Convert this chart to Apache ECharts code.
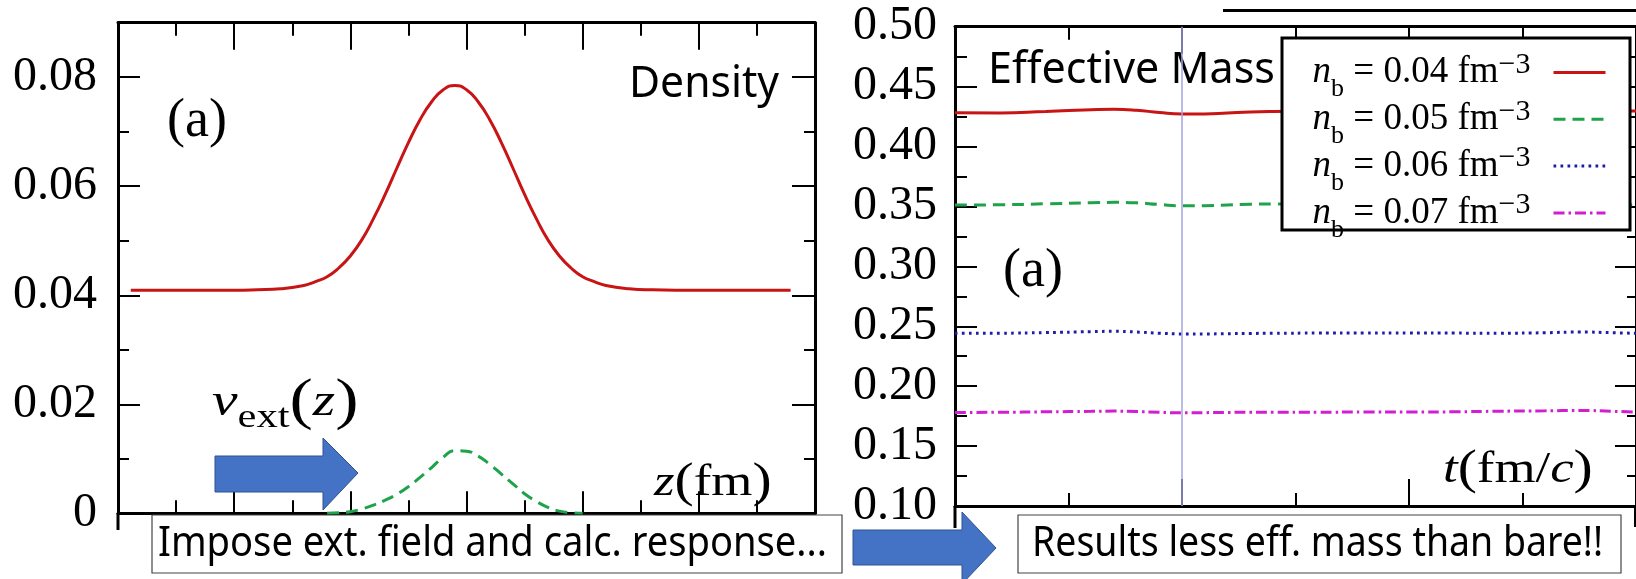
<!DOCTYPE html>
<html>
<head>
<meta charset="utf-8">
<title>Density and effective mass</title>
<script src="https://cdn.jsdelivr.net/npm/echarts@6/dist/echarts.min.js"></script>
<style>
  html, body { margin: 0; padding: 0; background: #fff; }
  #chart { width: 1636px; height: 579px; }
</style>
</head>
<body>
<div id="chart"></div>
<script>
// left panel: density n(z) and the imposed potential v_ext(z)
const densityZ = [-28.9, -24, -20, -18, -16, -14, -13, -12, -11, -10, -9, -8, -7, -6, -5, -4, -3, -2, -1,
  0, 1, 2, 3, 4, 5, 6, 7, 8, 9, 10, 11, 12, 14, 16, 20, 24, 27.9];
const densityN = [0.0409, 0.0409, 0.0409, 0.0410, 0.0412, 0.0418, 0.0425, 0.0434, 0.0450, 0.0472, 0.0502,
  0.0541, 0.0585, 0.0633, 0.0680, 0.0722, 0.0755, 0.0777, 0.0785, 0.0777, 0.0755, 0.0722, 0.0680, 0.0633,
  0.0585, 0.0541, 0.0502, 0.0472, 0.0450, 0.0434, 0.0425, 0.0418, 0.0412, 0.0410, 0.0409, 0.0409, 0.0409];
const vextZ = [-12, -11, -10, -9, -8, -7, -6, -5, -4, -3, -2, -1, 0, 1, 2, 3, 4, 5, 6, 7, 8, 9, 10];
const vextV = [0, 0.0001, 0.0003, 0.0008, 0.0015, 0.0024, 0.0035, 0.0049, 0.0066, 0.0084, 0.0103, 0.0115,
  0.0114, 0.0105, 0.0090, 0.0072, 0.0054, 0.0036, 0.0022, 0.0011, 0.0004, 0.0001, 0];
const densityTickLabels = ['0', '0.02', '0.04', '0.06', '0.08'];

// right panel: effective mass vs t for four background densities
const timeT = [0, 2, 4, 6, 7, 8, 9, 10, 11, 12, 13, 14, 16, 18, 20, 22, 24, 26, 27.5, 29, 30];
const mass004 = [0.4282, 0.4280, 0.4293, 0.4307, 0.4311, 0.4303, 0.4284, 0.4272, 0.4272, 0.4280, 0.4289,
  0.4293, 0.4295, 0.4295, 0.4295, 0.4295, 0.4295, 0.4296, 0.4296, 0.4296, 0.4296];
const mass005 = [0.3512, 0.3514, 0.3522, 0.3531, 0.3534, 0.3530, 0.3516, 0.3506, 0.3506, 0.3512, 0.3518,
  0.3520, 0.3518, 0.3516, 0.3515, 0.3514, 0.3513, 0.3512, 0.3512, 0.3511, 0.3511];
const mass006 = [0.2441, 0.2442, 0.2447, 0.2455, 0.2458, 0.2452, 0.2442, 0.2436, 0.2436, 0.2438, 0.2440,
  0.2442, 0.2443, 0.2444, 0.2444, 0.2443, 0.2442, 0.2446, 0.2452, 0.2446, 0.2441];
const mass007 = [0.1781, 0.1782, 0.1786, 0.1790, 0.1792, 0.1788, 0.1782, 0.1778, 0.1779, 0.1781, 0.1783,
  0.1783, 0.1783, 0.1784, 0.1784, 0.1786, 0.1791, 0.1794, 0.1798, 0.1790, 0.1784];
const nbValues = ['0.04', '0.05', '0.06', '0.07'];
const massTickLabels = ['0.10', '0.15', '0.20', '0.25', '0.30', '0.35', '0.40', '0.45', '0.50'];

const serif = '"Liberation Serif", "Times New Roman", serif';
const sans = '"Noto Sans", "Open Sans", sans-serif';

// horizontal squeeze so a sans text spans the same width as in the slide
function fitScale(text, size, family, width) {
  const ctx = document.createElement('canvas').getContext('2d');
  ctx.font = size + 'px ' + family;
  return width / ctx.measureText(text).width;
}

const zip = (xs, ys) => xs.map((x, i) => [x, ys[i]]);
const pickLabel = (labels) => (v) => labels.find(s => Math.abs(parseFloat(s) - v) < 1e-9) || '';

const tickStyle = { color: '#000', width: 2 };

function axis(o) {
  return {
    type: 'value',
    gridIndex: o.grid,
    position: o.pos,
    min: o.min,
    max: o.max,
    interval: o.interval,
    axisLine: { show: o.line !== false, onZero: false, lineStyle: { color: '#000', width: 3 } },
    axisTick: { show: true, inside: true, length: o.major, lineStyle: tickStyle },
    minorTick: { show: !!o.minor, splitNumber: 2, length: o.minor || 0, lineStyle: tickStyle },
    axisLabel: o.labels ? {
      show: true, margin: o.margin, fontFamily: serif, fontSize: 48, color: '#000',
      formatter: pickLabel(o.labels)
    } : { show: false },
    splitLine: { show: false },
    minorSplitLine: { show: false }
  };
}

const nbName = (i) => 'n_b = ' + nbValues[i] + ' fm^-3';
const massColors = ['#c81414', '#1fa34a', '#1c1ca8', '#d21ed2'];
const massDash = ['solid', [12, 7], [2.7, 4.3], [11, 4, 2.5, 4]];
const massData = [mass004, mass005, mass006, mass007];

const massSeries = massData.map((m, i) => ({
  name: nbName(i),
  type: 'line',
  xAxisIndex: 2,
  yAxisIndex: 4,
  data: zip(timeT, m),
  smooth: true,
  symbol: 'none',
  color: massColors[i],
  lineStyle: { color: massColors[i], width: 3, type: massDash[i] },
  markLine: i === 0 ? {
    silent: true, symbol: 'none', label: { show: false },
    lineStyle: { color: '#a4a4e0', width: 1.5, type: 'solid' },
    data: [{ xAxis: 10 }]
  } : undefined
}));

const imposeText = 'Impose ext. field and calc. response...';
const resultText = 'Results less eff. mass than bare!!';
const arrowStyle = { fill: '#4472c4', stroke: '#2f528f', lineWidth: 1 };

const chart = echarts.init(document.getElementById('chart'));
chart.setOption({
  animation: false,
  backgroundColor: '#fff',
  grid: [
    { left: 118, top: 22.7, width: 697, height: 490.6, outerBoundsMode: 'none' },
    { left: 955, top: 26.7, width: 681, height: 479.3, outerBoundsMode: 'none' }
  ],
  xAxis: [
    axis({ grid: 0, pos: 'bottom', min: -30, max: 30, interval: 10, major: 22, minor: 13 }),
    axis({ grid: 0, pos: 'top', min: -30, max: 30, interval: 10, major: 27, minor: 13 }),
    axis({ grid: 1, pos: 'bottom', min: 0, max: 30, interval: 10, major: 27, minor: 13 }),
    axis({ grid: 1, pos: 'top', min: 0, max: 30, interval: 10, major: 27, minor: 13 })
  ],
  yAxis: [
    axis({ grid: 0, pos: 'left', min: 0, max: 0.09, interval: 0.02, major: 22, labels: densityTickLabels, margin: 21 }),
    axis({ grid: 0, pos: 'left', min: 0, max: 0.09, interval: 0.01, major: 11, line: false }),
    axis({ grid: 0, pos: 'right', min: 0, max: 0.09, interval: 0.02, major: 23 }),
    axis({ grid: 0, pos: 'right', min: 0, max: 0.09, interval: 0.01, major: 11, line: false }),
    axis({ grid: 1, pos: 'left', min: 0.1, max: 0.5, interval: 0.05, major: 22, minor: 12, labels: massTickLabels, margin: 18 }),
    axis({ grid: 1, pos: 'right', min: 0.1, max: 0.5, interval: 0.05, major: 21, minor: 9 })
  ],
  legend: {
    data: massSeries.map(s => s.name),
    orient: 'vertical',
    align: 'right',
    right: 29,
    top: 50,
    padding: 0,
    itemWidth: 52,
    itemHeight: 1,
    itemGap: -5.7,
    lineStyle: { width: 3 },
    formatter: (name) => {
      const i = massSeries.findIndex(s => s.name === name);
      return '{n|n}{b|b}{t| = ' + nbValues[i] + ' fm}{s|\u22123}';
    },
    textStyle: {
      color: '#000',
      rich: {
        n: { fontFamily: serif, fontStyle: 'italic', fontSize: 37, lineHeight: 40 },
        b: { fontFamily: serif, fontSize: 26, height: 6, lineHeight: 6, verticalAlign: 'bottom' },
        t: { fontFamily: serif, fontSize: 37, lineHeight: 40 },
        s: { fontFamily: serif, fontSize: 30, height: 25, lineHeight: 25, verticalAlign: 'top', padding: [0, 18, 0, 0] }
      }
    }
  },
  series: [
    {
      name: 'density', type: 'line', xAxisIndex: 0, yAxisIndex: 0,
      data: zip(densityZ, densityN), smooth: true, symbol: 'none',
      lineStyle: { color: '#c81414', width: 3 }
    },
    {
      name: 'vext', type: 'line', xAxisIndex: 0, yAxisIndex: 0,
      data: zip(vextZ, vextV), smooth: true, symbol: 'none',
      lineStyle: { color: '#1fa34a', width: 3, type: [12, 7] }
    },
    ...massSeries
  ],
  graphic: [
    // legend frame sits between the lines and the legend entries
    { type: 'rect', z: 3.5, shape: { x: 1282, y: 38, width: 348, height: 192 },
      style: { fill: '#fff', stroke: '#000', lineWidth: 3 } },
    { type: 'line', shape: { x1: 1223, y1: 10.5, x2: 1636, y2: 10.5 }, style: { stroke: '#000', lineWidth: 3 } },
    // axis stubs below the frames
    { type: 'line', shape: { x1: 118, y1: 513, x2: 118, y2: 530 }, style: { stroke: '#000', lineWidth: 3 } },
    { type: 'line', shape: { x1: 955, y1: 506, x2: 955, y2: 528 }, style: { stroke: '#000', lineWidth: 3 } },
    { type: 'line', shape: { x1: 1635, y1: 506, x2: 1635, y2: 527 }, style: { stroke: '#000', lineWidth: 2 } },
    // panel texts
    { type: 'text', z: 5, x: 167, y: 122, style: { text: '(a)', fontFamily: serif, fontSize: 54, fill: '#000', verticalAlign: 'middle' } },
    { type: 'text', z: 5, x: 1003, y: 272, style: { text: '(a)', fontFamily: serif, fontSize: 54, fill: '#000', verticalAlign: 'middle' } },
    { type: 'text', z: 5, x: 629, y: 84, scaleX: fitScale('Density', 44, sans, 150),
      style: { text: 'Density', fontFamily: sans, fontSize: 44, fill: '#000', verticalAlign: 'middle' } },
    { type: 'text', z: 5, x: 988, y: 70.5, scaleX: fitScale('Effective Mass', 44, sans, 287),
      style: { text: 'Effective Mass', fontFamily: sans, fontSize: 44, fill: '#000', verticalAlign: 'middle' } },
    {
      type: 'text', z: 5, x: 212, y: 403, scaleX: 1.25,
      style: {
        text: '{v|v}{s|ext}{p|(}{z|z}{p|)}', fill: '#000', verticalAlign: 'middle',
        rich: {
          v: { fontFamily: serif, fontStyle: 'italic', fontSize: 46, lineHeight: 56 },
          s: { fontFamily: serif, fontSize: 34, height: 25, lineHeight: 25, verticalAlign: 'bottom' },
          p: { fontFamily: serif, fontSize: 56, lineHeight: 56 },
          z: { fontFamily: serif, fontStyle: 'italic', fontSize: 46, lineHeight: 56 }
        }
      }
    },
    {
      type: 'text', z: 5, x: 654, y: 483, scaleX: 1.2,
      style: {
        text: '{i|z}{p|(}{r|fm}{p|)}', fill: '#000', verticalAlign: 'middle',
        rich: {
          i: { fontFamily: serif, fontStyle: 'italic', fontSize: 44, lineHeight: 50 },
          r: { fontFamily: serif, fontSize: 44, lineHeight: 50 },
          p: { fontFamily: serif, fontSize: 48, lineHeight: 50 }
        }
      }
    },
    {
      type: 'text', z: 5, x: 1443, y: 470, scaleX: 1.2,
      style: {
        text: '{i|t}{p|(}{r|fm/}{i|c}{p|)}', fill: '#000', verticalAlign: 'middle',
        rich: {
          i: { fontFamily: serif, fontStyle: 'italic', fontSize: 44, lineHeight: 50 },
          r: { fontFamily: serif, fontSize: 44, lineHeight: 50 },
          p: { fontFamily: serif, fontSize: 48, lineHeight: 50 }
        }
      }
    },
    // arrows
    { type: 'polygon', z: 5, shape: { points: [[215, 456], [323, 456], [323, 438], [358, 473], [323, 510], [323, 492], [215, 492]] }, style: arrowStyle },
    { type: 'polygon', z: 5, shape: { points: [[853, 530], [962, 530], [962, 512], [996, 548], [962, 584], [962, 565], [853, 565]] }, style: arrowStyle },
    // caption boxes
    { type: 'rect', z: 5, shape: { x: 152, y: 515, width: 690, height: 58 }, style: { fill: '#fff', stroke: '#444', lineWidth: 1.2 } },
    { type: 'text', z: 6, x: 158, y: 544, scaleX: fitScale(imposeText, 42, sans, 669),
      style: { text: imposeText, fontFamily: sans, fontSize: 42, fill: '#000', verticalAlign: 'middle' } },
    { type: 'rect', z: 5, shape: { x: 1018, y: 515, width: 603, height: 58 }, style: { fill: '#fff', stroke: '#444', lineWidth: 1.2 } },
    { type: 'text', z: 6, x: 1032, y: 544, scaleX: fitScale(resultText, 42, sans, 571),
      style: { text: resultText, fontFamily: sans, fontSize: 42, fill: '#000', verticalAlign: 'middle' } }
  ]
});
</script>
</body>
</html>
